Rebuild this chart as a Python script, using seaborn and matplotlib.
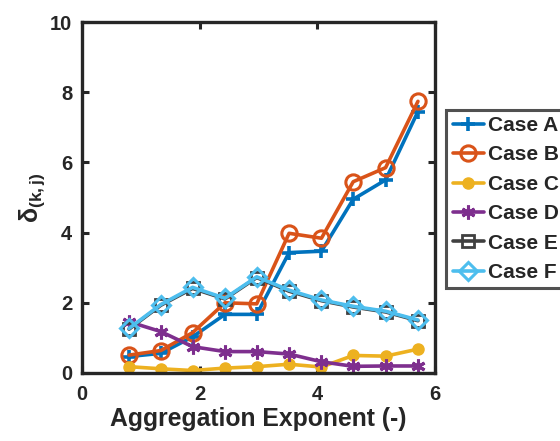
import matplotlib
matplotlib.use("Agg")
import matplotlib.pyplot as plt
import seaborn as sns
import pandas as pd

# Aggregation exponent values (x) and the delta_(k,j) series per case
exponent = [0.80, 1.34, 1.88, 2.43, 2.97, 3.52, 4.07, 4.61, 5.16, 5.71]
case_a = [0.47, 0.56, 1.03, 1.67, 1.67, 3.43, 3.47, 4.95, 5.50, 7.45]
case_b = [0.51, 0.64, 1.15, 2.00, 1.97, 3.98, 3.84, 5.45, 5.85, 7.74]
case_c = [0.18, 0.12, 0.07, 0.14, 0.18, 0.25, 0.17, 0.50, 0.48, 0.68]
case_d = [1.46, 1.18, 0.75, 0.61, 0.61, 0.54, 0.32, 0.19, 0.20, 0.20]
case_e = [1.25, 1.93, 2.41, 2.11, 2.72, 2.33, 2.06, 1.88, 1.74, 1.49]
case_f = [1.27, 1.95, 2.44, 2.13, 2.74, 2.36, 2.08, 1.90, 1.76, 1.51]
labels = ["Case A", "Case B", "Case C", "Case D", "Case E", "Case F"]

series = [case_a, case_b, case_c, case_d, case_e, case_f]
colors = ["#0072BD", "#D95319", "#EDB120", "#7E2F8E", "#404040", "#4DBEEE"]
styles = [
    dict(marker="+", markersize=10, markeredgewidth=2.6),
    dict(marker="o", markersize=11, markeredgewidth=2.2, markerfacecolor="none"),
    dict(marker="o", markersize=8, markeredgewidth=1.0),
    dict(marker=(6, 2, 0), markersize=10, markeredgewidth=2.2),
    dict(marker="s", markersize=8, markeredgewidth=2.0, markerfacecolor="none"),
    dict(marker="D", markersize=9, markeredgewidth=2.2, markerfacecolor="none"),
]

sns.set_style("white")
plt.rcParams["font.family"] = ["Liberation Sans", "DejaVu Sans"]
plt.rcParams["font.weight"] = "bold"
plt.rcParams["mathtext.fontset"] = "custom"
plt.rcParams["mathtext.rm"] = "Liberation Sans:bold"
plt.rcParams["mathtext.bf"] = "Liberation Sans:bold"
plt.rcParams["mathtext.it"] = "Liberation Sans:bold"

fig = plt.figure(figsize=(5.6, 4.41), dpi=100)
ax = fig.add_axes([0.1464, 0.1542, 0.6304, 0.7959])

for lab, vals, col, st in zip(labels, series, colors, styles):
    df = pd.DataFrame({"x": exponent, "y": vals})
    sns.lineplot(data=df, x="x", y="y", ax=ax, color=col, linewidth=2.6,
                 label=lab, markeredgecolor=col, **st)

ax.set_xlim(0, 6)
ax.set_ylim(0, 10)
ax.set_xticks([0, 2, 4, 6])
ax.set_yticks([0, 2, 4, 6, 8, 10])
ax.tick_params(direction="in", length=5, width=2.2, color="#262626",
               labelsize=14.5, labelcolor="#262626", top=True, right=True,
               bottom=True, left=True)
ax.tick_params(axis="x", pad=9)
ax.tick_params(axis="y", pad=7)
for lbl in ax.get_xticklabels() + ax.get_yticklabels():
    lbl.set_fontweight("bold")
for sp in ax.spines.values():
    sp.set_linewidth(2.4)
    sp.set_color("#262626")

ax.set_xlabel("Aggregation Exponent (-)", fontsize=17.8, fontweight="bold",
              color="#262626", labelpad=2)
ax.set_ylabel(r"δ$_{(k,j)}$", fontsize=18, fontweight="bold",
              color="#262626", labelpad=2)

ax.get_legend().remove()
handles, hl = ax.get_legend_handles_labels()
leg = fig.legend(handles, hl, loc="upper left", bbox_to_anchor=(0.797, 0.751),
                 frameon=True, fancybox=False, handlelength=1.5,
                 handletextpad=0.2, labelspacing=0.5, borderpad=0.3,
                 borderaxespad=0.0, prop={"weight": "bold", "size": 15})
leg.get_frame().set_edgecolor("#262626")
leg.get_frame().set_linewidth(2.2)

fig.savefig("out.png", dpi=100)
